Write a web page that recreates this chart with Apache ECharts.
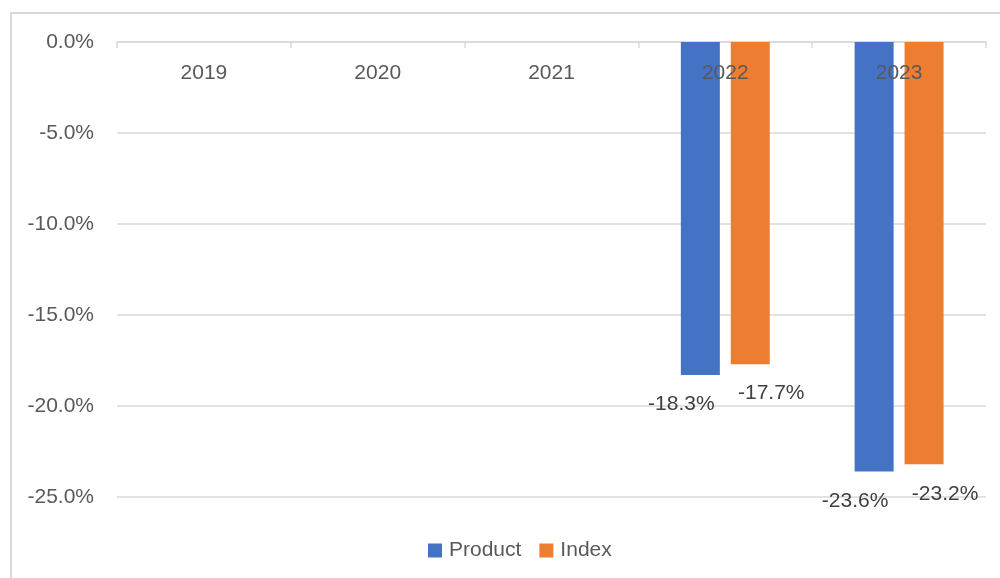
<!DOCTYPE html>
<html>
<head>
<meta charset="utf-8">
<script src="https://cdn.jsdelivr.net/npm/echarts@6/dist/echarts.min.js"></script>
<style>
html,body{margin:0;padding:0;width:1000px;height:578px;overflow:hidden;background:#fff;}
#frame{position:absolute;left:10px;top:12px;width:1000px;height:600px;border-left:2px solid #d9d9d9;border-top:2px solid #d9d9d9;box-sizing:border-box;}
#chart{position:absolute;left:0;top:0;width:1000px;height:578px;}
</style>
</head>
<body>
<div id="frame"></div>
<div id="chart"></div>
<script>
const categories = ['2019', '2020', '2021', '2022', '2023'];
const productValues = [null, null, null, -18.3, -23.6];
const indexValues = [null, null, null, -17.7, -23.2];
const yTicks = [0, -5, -10, -15, -20, -25];

const chart = echarts.init(document.getElementById('chart'));
const font = 'Liberation Sans, Arial, sans-serif';
const txt = '#595959';
function lbl(ox) {
  return {
    show: true, position: 'bottom', distance: 19, offset: [ox, 0],
    color: '#404040', fontSize: 21, fontFamily: font,
    formatter: p => p.value.toFixed(1) + '%'
  };
}
chart.setOption({
  animation: false,
  grid: {left: 117, right: 14, top: 42, bottom: 81},
  legend: {
    bottom: 12, left: 423, itemWidth: 14, itemHeight: 14, itemGap: 18,
    icon: 'rect',
    textStyle: {color: txt, fontSize: 21, fontFamily: font, padding: [0, 0, 0, 2]},
    data: ['Product', 'Index']
  },
  xAxis: [{
    type: 'category', data: categories, position: 'top', z: 0,
    axisLine: {onZero: false, lineStyle: {color: '#d9d9d9', width: 1.5}},
    axisTick: {show: true, inside: true, length: 6, lineStyle: {color: '#d9d9d9', width: 1.5}},
    axisLabel: {show: false}
  }, {
    type: 'category', data: categories, position: 'top', z: 10,
    axisLine: {show: false}, axisTick: {show: false},
    axisLabel: {inside: true, color: txt, fontSize: 21, fontFamily: font, margin: 21}
  }],
  yAxis: {
    type: 'value', min: yTicks[yTicks.length - 1], max: yTicks[0], interval: 5,
    axisLine: {show: false}, axisTick: {show: false},
    splitLine: {lineStyle: {color: '#d9d9d9', width: 1.5}},
    axisLabel: {color: txt, fontSize: 21, fontFamily: font, margin: 23,
      formatter: v => v.toFixed(1) + '%'}
  },
  series: [
    {name: 'Product', type: 'bar', xAxisIndex: 0, data: productValues, barWidth: 39, barGap: '28%',
     itemStyle: {color: '#4472C4'}, label: lbl(-19)},
    {name: 'Index', type: 'bar', xAxisIndex: 0, data: indexValues, barWidth: 39,
     itemStyle: {color: '#ED7D31'}, label: lbl(21)}
  ]
});
</script>
</body>
</html>
